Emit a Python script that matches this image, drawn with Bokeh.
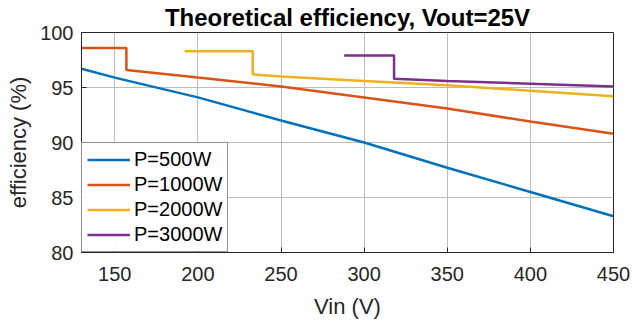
from bokeh.plotting import figure
from bokeh.models import Range1d, FixedTicker, Legend, LegendItem
from bokeh.embed import file_html
from bokeh.resources import INLINE

# Data
x500 = [130, 150, 200, 250, 300, 350, 400, 450]
y500 = [96.7, 95.9, 94.1, 92.0, 90.0, 87.7, 85.5, 83.3]

x1000 = [130, 157, 157, 200, 250, 300, 350, 400, 450]
y1000 = [98.6, 98.6, 96.6, 95.9, 95.1, 94.1, 93.1, 91.9, 90.8]

x2000 = [192, 233, 233, 250, 300, 350, 400, 450]
y2000 = [98.3, 98.3, 96.2, 96.0, 95.6, 95.2, 94.7, 94.2]

x3000 = [288, 318, 318, 350, 400, 450]
y3000 = [97.9, 97.9, 95.8, 95.6, 95.35, 95.1]

labels = ["P=500W", "P=1000W", "P=2000W", "P=3000W"]
colors = ["#0072BD", "#D95319", "#EDB120", "#7E2F8E"]
xticks = [150, 200, 250, 300, 350, 400, 450]
yticks = [80, 85, 90, 95, 100]

FONT = "Liberation Sans"
TXT = "#262626"

p = figure(width=632, height=326, output_backend="svg", toolbar_location=None,
           x_range=Range1d(130, 450), y_range=Range1d(80, 100),
           min_border_left=81, min_border_right=19, min_border_top=32, min_border_bottom=74)

p.title.text = "Theoretical efficiency, Vout=25V"
p.title.align = "center"
p.title.text_font = FONT
p.title.text_font_size = "24px"
p.title.text_font_style = "bold"
p.title.text_color = "#000000"
p.title.standoff = 3

series = [(x500, y500), (x1000, y1000), (x2000, y2000), (x3000, y3000)]
items = []
for (xs, ys), lab, c in zip(series, labels, colors):
    r = p.line(xs, ys, line_color=c, line_width=2.5)
    items.append(LegendItem(label=lab, renderers=[r]))

legend = Legend(items=items, location="bottom_left", margin=0,
                label_text_font=FONT, label_text_font_size="20px",
                label_text_color="#000000", glyph_width=43, glyph_height=21,
                label_standoff=4, spacing=2, padding=5,
                border_line_color="#262626", border_line_width=1,
                label_height=21)
p.add_layout(legend)

for ax in (p.xaxis[0], p.yaxis[0]):
    ax.axis_line_color = TXT
    ax.major_tick_line_color = TXT
    ax.major_tick_in = 5
    ax.major_tick_out = 0
    ax.minor_tick_line_color = None
    ax.major_label_text_font = FONT
    ax.major_label_text_font_size = "20px"
    ax.major_label_text_color = TXT
    ax.axis_label_text_font = FONT
    ax.axis_label_text_font_size = "22px"
    ax.axis_label_text_font_style = "normal"
    ax.axis_label_text_color = TXT

p.xaxis.ticker = FixedTicker(ticks=xticks)
p.yaxis.ticker = FixedTicker(ticks=yticks)
p.xaxis.axis_label = "Vin (V)"
p.yaxis.axis_label = "efficiency (%)"
p.xaxis.major_label_standoff = 14
p.yaxis.major_label_standoff = 8
p.xaxis.axis_label_standoff = 10
p.yaxis.axis_label_standoff = 6

p.xgrid.ticker = FixedTicker(ticks=xticks)
p.ygrid.ticker = FixedTicker(ticks=yticks)
p.grid.grid_line_color = "#bdbdbd"
p.grid.grid_line_alpha = 1.0
p.outline_line_color = TXT
p.outline_line_alpha = 1.0
p.background_fill_color = "white"
p.border_fill_color = "white"

open("out.html", "w").write(file_html(p, INLINE))
